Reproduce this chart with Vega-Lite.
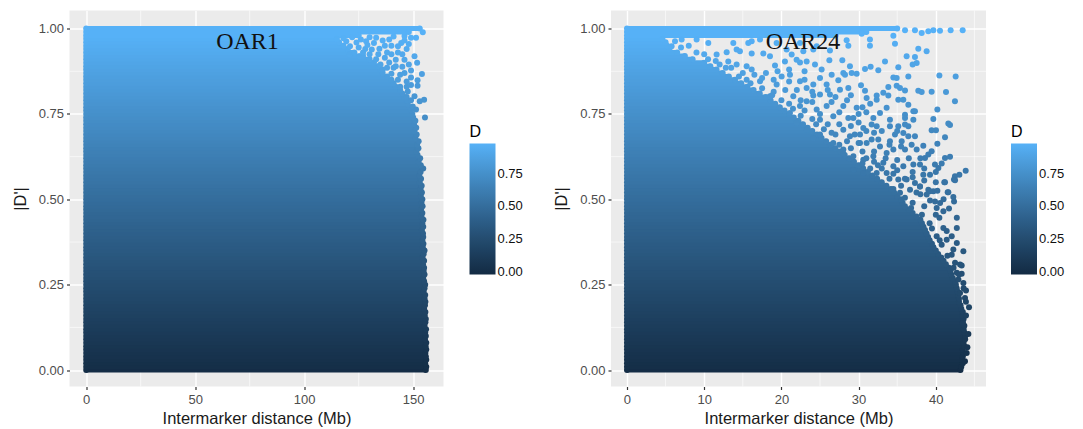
{"$schema":"https://vega.github.io/schema/vega-lite/v6.json","background":"white","padding":{"left":11.5,"top":9.5,"right":10,"bottom":0},"resolve":{"scale":{"color":"independent"},"legend":{"color":"independent"}},"config":{"view":{"fill":"#EBEBEB","stroke":null},"font":"Liberation Sans","concat":{"spacing":29.5},"axis":{"grid":true,"gridColor":"#FFFFFF","gridWidth":1.4,"domain":false,"tickColor":"#333333","tickSize":3,"tickWidth":1.2,"labelColor":"#4D4D4D","labelFontSize":13,"titleFontSize":16.5,"titleFontWeight":"normal","titleColor":"#1a1a1a","labelFont":"Liberation Sans","titleFont":"Liberation Sans"},"legend":{"titleFontSize":16,"titleFontWeight":"normal","labelFontSize":13,"labelColor":"#111111","gradientLength":131,"gradientThickness":26,"titlePadding":4,"gradientStrokeWidth":0,"padding":0,"labelFont":"Liberation Sans","titleFont":"Liberation Sans","labelOffset":6}},"datasets":{"l1":[{"y":0,"xmax":155.8},{"y":0.01,"xmax":156},{"y":0.02,"xmax":155.5},{"y":0.03,"xmax":156},{"y":0.04,"xmax":155.8},{"y":0.05,"xmax":155.6},{"y":0.06,"xmax":156},{"y":0.07,"xmax":155.7},{"y":0.08,"xmax":156},{"y":0.09,"xmax":155.4},{"y":0.1,"xmax":155.8},{"y":0.11,"xmax":155.5},{"y":0.12,"xmax":155.9},{"y":0.13,"xmax":155.2},{"y":0.14,"xmax":155.6},{"y":0.15,"xmax":155.8},{"y":0.16,"xmax":155.3},{"y":0.17,"xmax":155.6},{"y":0.18,"xmax":155},{"y":0.19,"xmax":155.4},{"y":0.2,"xmax":155.6},{"y":0.21,"xmax":155.2},{"y":0.22,"xmax":155.5},{"y":0.23,"xmax":154.8},{"y":0.24,"xmax":155.2},{"y":0.25,"xmax":155.5},{"y":0.26,"xmax":155},{"y":0.27,"xmax":154.6},{"y":0.28,"xmax":155.2},{"y":0.29,"xmax":154.8},{"y":0.3,"xmax":155},{"y":0.31,"xmax":154.5},{"y":0.32,"xmax":155},{"y":0.33,"xmax":154.3},{"y":0.34,"xmax":154.8},{"y":0.35,"xmax":155.2},{"y":0.36,"xmax":154.4},{"y":0.37,"xmax":154.7},{"y":0.38,"xmax":154.2},{"y":0.39,"xmax":154.6},{"y":0.4,"xmax":154.5},{"y":0.41,"xmax":154},{"y":0.42,"xmax":154.6},{"y":0.43,"xmax":154.2},{"y":0.44,"xmax":154.7},{"y":0.45,"xmax":153.8},{"y":0.46,"xmax":154.2},{"y":0.47,"xmax":153.6},{"y":0.48,"xmax":154.3},{"y":0.49,"xmax":153.8},{"y":0.5,"xmax":154.2},{"y":0.51,"xmax":153.5},{"y":0.52,"xmax":154},{"y":0.53,"xmax":153.4},{"y":0.54,"xmax":153.9},{"y":0.55,"xmax":153},{"y":0.56,"xmax":153.6},{"y":0.57,"xmax":152.8},{"y":0.58,"xmax":153.4},{"y":0.59,"xmax":154.6},{"y":0.6,"xmax":153.5},{"y":0.61,"xmax":152.5},{"y":0.62,"xmax":153.2},{"y":0.63,"xmax":152},{"y":0.64,"xmax":151.5},{"y":0.65,"xmax":152.4},{"y":0.66,"xmax":151.8},{"y":0.67,"xmax":152.5},{"y":0.68,"xmax":151},{"y":0.69,"xmax":151.6},{"y":0.7,"xmax":150.6},{"y":0.71,"xmax":151.4},{"y":0.72,"xmax":150.4},{"y":0.73,"xmax":151},{"y":0.74,"xmax":150},{"y":0.75,"xmax":149.6},{"y":0.76,"xmax":149},{"y":0.77,"xmax":148.5},{"y":0.78,"xmax":147.5},{"y":0.79,"xmax":147},{"y":0.8,"xmax":146},{"y":0.81,"xmax":145},{"y":0.82,"xmax":144},{"y":0.83,"xmax":142},{"y":0.84,"xmax":141},{"y":0.85,"xmax":140},{"y":0.86,"xmax":138},{"y":0.87,"xmax":136},{"y":0.88,"xmax":135},{"y":0.89,"xmax":134},{"y":0.9,"xmax":132},{"y":0.91,"xmax":130},{"y":0.92,"xmax":127},{"y":0.93,"xmax":123},{"y":0.94,"xmax":120},{"y":0.95,"xmax":118},{"y":0.96,"xmax":116},{"y":0.97,"xmax":115},{"y":0.98,"xmax":125},{"y":0.99,"xmax":148},{"y":1,"xmax":153}],"s1":[{"x":154.4,"y":0.989},{"x":150.6,"y":0.919},{"x":151.8,"y":0.9},{"x":154,"y":0.867},{"x":149,"y":0.877},{"x":152,"y":0.849},{"x":152,"y":0.833},{"x":149,"y":0.857},{"x":155,"y":0.792},{"x":153,"y":0.787},{"x":155.4,"y":0.74},{"x":149.8,"y":0.772},{"x":151.3,"y":0.763},{"x":150.6,"y":0.802},{"x":147.5,"y":0.816},{"x":145,"y":0.888},{"x":146,"y":0.909},{"x":142,"y":0.909},{"x":139,"y":0.901},{"x":136,"y":0.88},{"x":134.5,"y":0.941},{"x":131,"y":0.939},{"x":125.4,"y":0.919},{"x":120.8,"y":0.924},{"x":151.3,"y":0.973},{"x":149,"y":0.973},{"x":144.5,"y":0.958},{"x":139,"y":0.968},{"x":133,"y":0.973},{"x":128.4,"y":0.963},{"x":124,"y":0.959},{"x":119.3,"y":0.963},{"x":147,"y":0.94},{"x":128,"y":0.94},{"x":138,"y":0.93},{"x":141,"y":0.885},{"x":144,"y":0.865},{"x":147,"y":0.845},{"x":137,"y":0.915},{"x":133,"y":0.91},{"x":127,"y":0.93},{"x":143,"y":0.93},{"x":140,"y":0.95},{"x":136,"y":0.965},{"x":146,"y":0.965},{"x":118,"y":0.972},{"x":122,"y":0.975},{"x":126,"y":0.968},{"x":130,"y":0.975},{"x":141,"y":0.977},{"x":146,"y":0.978},{"x":121,"y":0.948},{"x":125,"y":0.945},{"x":129,"y":0.952},{"x":132,"y":0.958},{"x":137,"y":0.95},{"x":143,"y":0.948},{"x":148,"y":0.955},{"x":130,"y":0.925},{"x":134,"y":0.925},{"x":140,"y":0.925},{"x":145,"y":0.925},{"x":135,"y":0.895},{"x":138,"y":0.885},{"x":142,"y":0.89},{"x":148,"y":0.895},{"x":140,"y":0.868},{"x":143,"y":0.85},{"x":146,"y":0.87},{"x":144,"y":0.83},{"x":147,"y":0.83},{"x":149,"y":0.835},{"x":147,"y":0.8},{"x":149,"y":0.79}],"l2":[{"y":0,"xmax":43.2},{"y":0.01,"xmax":43.3},{"y":0.02,"xmax":43.5},{"y":0.03,"xmax":43.4},{"y":0.04,"xmax":43.5},{"y":0.05,"xmax":43.6},{"y":0.06,"xmax":43.5},{"y":0.07,"xmax":43.7},{"y":0.08,"xmax":43.6},{"y":0.09,"xmax":43.8},{"y":0.1,"xmax":43.8},{"y":0.11,"xmax":43.7},{"y":0.12,"xmax":43.6},{"y":0.13,"xmax":43.7},{"y":0.14,"xmax":43.5},{"y":0.15,"xmax":43.6},{"y":0.16,"xmax":43.4},{"y":0.17,"xmax":43.5},{"y":0.18,"xmax":43.3},{"y":0.19,"xmax":43.2},{"y":0.2,"xmax":43},{"y":0.21,"xmax":43},{"y":0.22,"xmax":42.9},{"y":0.23,"xmax":42.8},{"y":0.24,"xmax":42.7},{"y":0.25,"xmax":42.6},{"y":0.26,"xmax":42.5},{"y":0.27,"xmax":42.2},{"y":0.28,"xmax":42},{"y":0.29,"xmax":41.9},{"y":0.3,"xmax":41.7},{"y":0.31,"xmax":41.3},{"y":0.32,"xmax":41},{"y":0.33,"xmax":40.7},{"y":0.34,"xmax":40.3},{"y":0.35,"xmax":40},{"y":0.36,"xmax":39.7},{"y":0.37,"xmax":39.5},{"y":0.38,"xmax":39.2},{"y":0.39,"xmax":39},{"y":0.4,"xmax":38.8},{"y":0.41,"xmax":38.6},{"y":0.42,"xmax":38.4},{"y":0.43,"xmax":38.2},{"y":0.44,"xmax":38},{"y":0.45,"xmax":37.5},{"y":0.46,"xmax":37},{"y":0.47,"xmax":36.5},{"y":0.48,"xmax":36},{"y":0.49,"xmax":35.7},{"y":0.5,"xmax":35.5},{"y":0.51,"xmax":35},{"y":0.52,"xmax":34.6},{"y":0.53,"xmax":34.2},{"y":0.54,"xmax":33.6},{"y":0.55,"xmax":33},{"y":0.56,"xmax":32.4},{"y":0.57,"xmax":31.8},{"y":0.58,"xmax":31.2},{"y":0.59,"xmax":30.6},{"y":0.6,"xmax":30},{"y":0.61,"xmax":29.4},{"y":0.62,"xmax":28.8},{"y":0.63,"xmax":28.2},{"y":0.64,"xmax":27.6},{"y":0.65,"xmax":27},{"y":0.66,"xmax":26.4},{"y":0.67,"xmax":25.8},{"y":0.68,"xmax":25.2},{"y":0.69,"xmax":24.6},{"y":0.7,"xmax":24},{"y":0.71,"xmax":23.4},{"y":0.72,"xmax":22.8},{"y":0.73,"xmax":22.2},{"y":0.74,"xmax":21.6},{"y":0.75,"xmax":21},{"y":0.76,"xmax":20.4},{"y":0.77,"xmax":19.8},{"y":0.78,"xmax":19.2},{"y":0.79,"xmax":18.6},{"y":0.8,"xmax":18},{"y":0.81,"xmax":17.2},{"y":0.82,"xmax":16.4},{"y":0.83,"xmax":15.6},{"y":0.84,"xmax":14.8},{"y":0.85,"xmax":14},{"y":0.86,"xmax":13.2},{"y":0.87,"xmax":12.4},{"y":0.88,"xmax":11.6},{"y":0.89,"xmax":10.8},{"y":0.9,"xmax":10},{"y":0.91,"xmax":8.5},{"y":0.92,"xmax":7.5},{"y":0.93,"xmax":6.5},{"y":0.94,"xmax":5.5},{"y":0.95,"xmax":5.2},{"y":0.96,"xmax":5},{"y":0.97,"xmax":4.6},{"y":0.98,"xmax":27},{"y":0.99,"xmax":31},{"y":1,"xmax":35}],"s2":[{"x":43.48,"y":0.995},{"x":41.92,"y":0.995},{"x":40.54,"y":0.994},{"x":39.68,"y":0.995},{"x":39.03,"y":0.992},{"x":38.17,"y":0.987},{"x":37.3,"y":0.995},{"x":36.01,"y":0.995},{"x":34.5,"y":0.979},{"x":34.71,"y":0.956},{"x":31.47,"y":0.968},{"x":31.47,"y":0.95},{"x":30.4,"y":0.985},{"x":28.45,"y":0.966},{"x":28.67,"y":0.95},{"x":37.73,"y":0.941},{"x":38.81,"y":0.934},{"x":36.22,"y":0.919},{"x":37.3,"y":0.917},{"x":37.52,"y":0.899},{"x":37,"y":0.895},{"x":35.14,"y":0.887},{"x":33.42,"y":0.904},{"x":32.55,"y":0.878},{"x":31.56,"y":0.888},{"x":30.83,"y":0.882},{"x":40.46,"y":0.863},{"x":42.57,"y":0.86},{"x":36.44,"y":0.86},{"x":34.5,"y":0.857},{"x":34.93,"y":0.855},{"x":34.93,"y":0.833},{"x":35.36,"y":0.826},{"x":37.73,"y":0.818},{"x":38.17,"y":0.814},{"x":39.46,"y":0.815},{"x":41.32,"y":0.814},{"x":42.48,"y":0.787},{"x":40.2,"y":0.763},{"x":35.14,"y":0.792},{"x":35.79,"y":0.792},{"x":36.44,"y":0.777},{"x":36.01,"y":0.819},{"x":33.85,"y":0.829},{"x":33.85,"y":0.804},{"x":33.2,"y":0.812},{"x":32.34,"y":0.804},{"x":32.34,"y":0.792},{"x":31.04,"y":0.797},{"x":30.83,"y":0.818},{"x":30.31,"y":0.834},{"x":29.75,"y":0.868},{"x":28.88,"y":0.89},{"x":29.1,"y":0.87},{"x":27.89,"y":0.907},{"x":26.21,"y":0.907},{"x":28.02,"y":0.87},{"x":28.24,"y":0.865},{"x":27.37,"y":0.849},{"x":26.51,"y":0.865},{"x":25.21,"y":0.88},{"x":24.35,"y":0.895},{"x":23.27,"y":0.904},{"x":22.41,"y":0.901},{"x":20.46,"y":0.904},{"x":19.17,"y":0.892},{"x":18.52,"y":0.919},{"x":17.66,"y":0.927},{"x":16.15,"y":0.927},{"x":16.15,"y":0.963},{"x":15.71,"y":0.958},{"x":17.23,"y":0.968},{"x":13.77,"y":0.958},{"x":14.2,"y":0.939},{"x":14.63,"y":0.934},{"x":12.91,"y":0.931},{"x":11.61,"y":0.924},{"x":10.53,"y":0.958},{"x":9.02,"y":0.968},{"x":7.08,"y":0.968},{"x":6.22,"y":0.963},{"x":5.78,"y":0.948},{"x":21.33,"y":0.924},{"x":20.68,"y":0.939},{"x":22.84,"y":0.934},{"x":24.13,"y":0.939},{"x":26.29,"y":0.936},{"x":24.57,"y":0.948},{"x":22.41,"y":0.958},{"x":19.38,"y":0.958},{"x":21.97,"y":0.909},{"x":37.09,"y":0.758},{"x":37.3,"y":0.758},{"x":36.01,"y":0.748},{"x":36.01,"y":0.738},{"x":37.09,"y":0.733},{"x":39.68,"y":0.735},{"x":41.62,"y":0.722},{"x":41.84,"y":0.718},{"x":39.46,"y":0.702},{"x":40.02,"y":0.702},{"x":41.19,"y":0.682},{"x":40.2,"y":0.663},{"x":38.38,"y":0.657},{"x":39.46,"y":0.641},{"x":39.03,"y":0.631},{"x":41.19,"y":0.621},{"x":41.84,"y":0.625},{"x":43.87,"y":0.584},{"x":43.05,"y":0.572},{"x":42.48,"y":0.568},{"x":42.35,"y":0.558},{"x":41.1,"y":0.55},{"x":41.62,"y":0.521},{"x":42.27,"y":0.507},{"x":40.76,"y":0.605},{"x":39.89,"y":0.602},{"x":40.33,"y":0.592},{"x":38.6,"y":0.621},{"x":39.25,"y":0.572},{"x":36.44,"y":0.685},{"x":37.3,"y":0.685},{"x":35.79,"y":0.694},{"x":36.44,"y":0.714},{"x":35.14,"y":0.714},{"x":36.01,"y":0.719},{"x":34.06,"y":0.733},{"x":34.06,"y":0.714},{"x":32.34,"y":0.714},{"x":31.91,"y":0.738},{"x":33.63,"y":0.768},{"x":32.77,"y":0.753},{"x":31.69,"y":0.719},{"x":30.61,"y":0.709},{"x":30.18,"y":0.69},{"x":31.69,"y":0.675},{"x":32.55,"y":0.675},{"x":34.71,"y":0.69},{"x":34.06,"y":0.67},{"x":35.58,"y":0.67},{"x":36.87,"y":0.66},{"x":37.52,"y":0.646},{"x":36.01,"y":0.646},{"x":34.5,"y":0.646},{"x":33.63,"y":0.636},{"x":32.77,"y":0.655},{"x":31.04,"y":0.665},{"x":30.18,"y":0.665},{"x":28.67,"y":0.738},{"x":29.32,"y":0.738},{"x":29.75,"y":0.768},{"x":28.02,"y":0.773},{"x":26.29,"y":0.807},{"x":25,"y":0.807},{"x":24.13,"y":0.804},{"x":27.59,"y":0.821},{"x":28.67,"y":0.826},{"x":25.86,"y":0.836},{"x":24.13,"y":0.836},{"x":23.27,"y":0.826},{"x":22.41,"y":0.846},{"x":21.11,"y":0.865},{"x":20.03,"y":0.86},{"x":19.38,"y":0.836},{"x":18.52,"y":0.802},{"x":17.23,"y":0.846},{"x":16.15,"y":0.88},{"x":15.5,"y":0.89},{"x":14.2,"y":0.895},{"x":13.12,"y":0.904},{"x":21.54,"y":0.802},{"x":22.41,"y":0.773},{"x":21.11,"y":0.753},{"x":23.27,"y":0.787},{"x":24.57,"y":0.763},{"x":25.86,"y":0.773},{"x":26.72,"y":0.743},{"x":25,"y":0.733},{"x":23.27,"y":0.704},{"x":21.97,"y":0.724},{"x":24.13,"y":0.68},{"x":26.72,"y":0.665},{"x":28.02,"y":0.704},{"x":28.88,"y":0.685},{"x":28.02,"y":0.646},{"x":29.32,"y":0.626},{"x":30.61,"y":0.616},{"x":31.91,"y":0.626},{"x":33.2,"y":0.607},{"x":34.5,"y":0.597},{"x":35.79,"y":0.597},{"x":37.09,"y":0.602},{"x":37.95,"y":0.602},{"x":38.38,"y":0.572},{"x":37.3,"y":0.548},{"x":36.22,"y":0.558},{"x":35.14,"y":0.558},{"x":33.63,"y":0.577},{"x":32.34,"y":0.577},{"x":30.61,"y":0.577},{"x":29.32,"y":0.587},{"x":39.03,"y":0.528},{"x":37.95,"y":0.538},{"x":36.66,"y":0.528},{"x":35.36,"y":0.519},{"x":39.68,"y":0.524},{"x":41.19,"y":0.55},{"x":42.49,"y":0.556},{"x":41.54,"y":0.521},{"x":42.36,"y":0.494},{"x":41.71,"y":0.473},{"x":42.72,"y":0.446},{"x":42.72,"y":0.416},{"x":43.57,"y":0.348},{"x":43.35,"y":0.306},{"x":43.35,"y":0.282},{"x":43.91,"y":0.233},{"x":44.3,"y":0.184},{"x":43.91,"y":0.16},{"x":44.22,"y":0.106},{"x":44.09,"y":0.067},{"x":44,"y":0.05},{"x":43.78,"y":0.026},{"x":40.11,"y":0.392},{"x":40.98,"y":0.416},{"x":41.41,"y":0.407},{"x":42.06,"y":0.392},{"x":42.72,"y":0.372},{"x":41.41,"y":0.382},{"x":40.76,"y":0.367},{"x":42.27,"y":0.353},{"x":42.49,"y":0.314},{"x":43.14,"y":0.309},{"x":42.92,"y":0.265},{"x":43.57,"y":0.255},{"x":43.78,"y":0.211},{"x":40.55,"y":0.489},{"x":39.9,"y":0.494},{"x":39.25,"y":0.497},{"x":40.98,"y":0.465},{"x":40.11,"y":0.475},{"x":38.82,"y":0.514},{"x":39.25,"y":0.524},{"x":37.95,"y":0.538},{"x":43.14,"y":0.226},{"x":42.72,"y":0.285},{"x":43.48,"y":0.138},{"x":42.06,"y":0.338},{"x":40.46,"y":0.446},{"x":10.5,"y":0.91},{"x":12,"y":0.895},{"x":13.5,"y":0.885},{"x":15,"y":0.87},{"x":16.5,"y":0.865},{"x":18,"y":0.87},{"x":19.5,"y":0.875},{"x":21,"y":0.88},{"x":23,"y":0.875},{"x":15.5,"y":0.85},{"x":17.5,"y":0.855},{"x":19,"y":0.85},{"x":21,"y":0.845},{"x":23,"y":0.85},{"x":25,"y":0.855},{"x":19,"y":0.815},{"x":20.5,"y":0.82},{"x":22,"y":0.82},{"x":24,"y":0.815},{"x":26,"y":0.82},{"x":27,"y":0.8},{"x":29,"y":0.805},{"x":21,"y":0.78},{"x":22.5,"y":0.79},{"x":24,"y":0.785},{"x":26.5,"y":0.785},{"x":28.5,"y":0.79},{"x":30.5,"y":0.77},{"x":31.5,"y":0.78},{"x":23,"y":0.76},{"x":25,"y":0.75},{"x":27.5,"y":0.755},{"x":30,"y":0.75},{"x":31,"y":0.755},{"x":24.5,"y":0.72},{"x":26,"y":0.72},{"x":27.5,"y":0.72},{"x":29,"y":0.715},{"x":30,"y":0.725},{"x":31,"y":0.7},{"x":33,"y":0.7},{"x":35,"y":0.7},{"x":25,"y":0.69},{"x":27,"y":0.69},{"x":29.5,"y":0.69},{"x":32,"y":0.695},{"x":27.5,"y":0.66},{"x":29,"y":0.65},{"x":30.5,"y":0.64},{"x":32,"y":0.64},{"x":34,"y":0.66},{"x":35.5,"y":0.655},{"x":28,"y":0.635},{"x":30.5,"y":0.605},{"x":32,"y":0.61},{"x":33.5,"y":0.62},{"x":35,"y":0.615},{"x":36.5,"y":0.62},{"x":38,"y":0.62},{"x":31.5,"y":0.59},{"x":33,"y":0.59},{"x":35,"y":0.585},{"x":37,"y":0.58},{"x":38.5,"y":0.59},{"x":40,"y":0.58},{"x":34,"y":0.56},{"x":35.5,"y":0.54},{"x":37,"y":0.565},{"x":38.5,"y":0.555},{"x":40,"y":0.55},{"x":34.5,"y":0.53},{"x":36,"y":0.505},{"x":38,"y":0.515},{"x":40.2,"y":0.525},{"x":41,"y":0.5},{"x":37,"y":0.49},{"x":38.5,"y":0.48},{"x":40,"y":0.455},{"x":7,"y":0.945},{"x":8,"y":0.95},{"x":9,"y":0.93},{"x":10,"y":0.925},{"x":11.5,"y":0.905},{"x":12.8,"y":0.885},{"x":14.5,"y":0.86},{"x":16,"y":0.84},{"x":17.5,"y":0.825},{"x":18.8,"y":0.805},{"x":20,"y":0.79},{"x":21.5,"y":0.765},{"x":22.5,"y":0.745},{"x":24,"y":0.735},{"x":25.5,"y":0.705},{"x":26.5,"y":0.695},{"x":28.5,"y":0.67},{"x":30,"y":0.665},{"x":31,"y":0.62},{"x":32.5,"y":0.6},{"x":34.5,"y":0.575},{"x":36,"y":0.56},{"x":37.5,"y":0.52},{"x":36.8,"y":0.475},{"x":38.2,"y":0.455},{"x":39.2,"y":0.43},{"x":39.5,"y":0.415},{"x":40.5,"y":0.38},{"x":41.5,"y":0.335},{"x":42.3,"y":0.3},{"x":43,"y":0.28},{"x":43.6,"y":0.24},{"x":43.9,"y":0.2}]},"hconcat":[{"width":374,"height":376,"layer":[{"data":{"values":[{"v":25},{"v":75},{"v":125}]},"mark":{"type":"rule","color":"#FFFFFF","strokeWidth":0.6},"encoding":{"x":{"field":"v","type":"quantitative","scale":{"domain":[-7.66,163.9],"nice":false,"zero":false},"axis":{"title":"Intermarker distance (Mb)","values":[0,50,100,150],"labelPadding":4,"titlePadding":4}}}},{"data":{"values":[{"w":0.125},{"w":0.375},{"w":0.625},{"w":0.875}]},"mark":{"type":"rule","color":"#FFFFFF","strokeWidth":0.6},"encoding":{"y":{"field":"w","type":"quantitative","scale":{"domain":[-0.048,1.053],"nice":false,"zero":false,"padding":0},"axis":{"title":"|D'|","values":[0,0.25,0.5,0.75,1],"format":".2f","labelPadding":3,"titlePadding":10}}}},{"data":{"name":"l1"},"mark":{"type":"bar","orient":"horizontal","height":5},"encoding":{"x":{"field":"xmax","type":"quantitative","stack":null},"x2":{"datum":0},"y":{"field":"y","type":"quantitative","scale":{"padding":0}},"color":{"field":"y","type":"quantitative","title":"D","scale":{"domain":[-0.02,0.98],"range":["#132B43","#56B1F7"],"interpolate":"lab","clamp":true,"nice":false,"zero":false},"legend":{"type":"gradient","orient":"none","legendX":400,"legendY":113,"values":[0,0.25,0.5,0.75],"format":".2f"}}}},{"data":{"name":"l1"},"mark":{"type":"point","filled":true,"opacity":1,"size":36},"encoding":{"x":{"datum":0,"type":"quantitative"},"y":{"field":"y","type":"quantitative"},"color":{"field":"y","type":"quantitative","title":"D","legend":{"type":"gradient","orient":"none","legendX":400,"legendY":113,"values":[0,0.25,0.5,0.75],"format":".2f"}}}},{"data":{"name":"l1"},"mark":{"type":"point","filled":true,"opacity":1,"size":36},"encoding":{"x":{"field":"xmax","type":"quantitative"},"y":{"field":"y","type":"quantitative"},"color":{"field":"y","type":"quantitative","title":"D","legend":{"type":"gradient","orient":"none","legendX":400,"legendY":113,"values":[0,0.25,0.5,0.75],"format":".2f"}}}},{"data":{"name":"s1"},"mark":{"type":"point","filled":true,"opacity":1,"size":36},"encoding":{"x":{"field":"x","type":"quantitative"},"y":{"field":"y","type":"quantitative"},"color":{"field":"y","type":"quantitative","title":"D","legend":{"type":"gradient","orient":"none","legendX":400,"legendY":113,"values":[0,0.25,0.5,0.75],"format":".2f"}}}},{"data":{"values":[{"x":74,"y":0.962,"label":"OAR1"}]},"mark":{"type":"text","font":"Liberation Serif","fontSize":24,"color":"#111111"},"encoding":{"x":{"field":"x","type":"quantitative"},"y":{"field":"y","type":"quantitative"},"text":{"field":"label"}}}]},{"width":375,"height":376,"layer":[{"data":{"values":[{"v":5},{"v":15},{"v":25},{"v":35},{"v":45}]},"mark":{"type":"rule","color":"#FFFFFF","strokeWidth":0.6},"encoding":{"x":{"field":"v","type":"quantitative","scale":{"domain":[-2.07,46.5],"nice":false,"zero":false},"axis":{"title":"Intermarker distance (Mb)","values":[0,10,20,30,40],"labelPadding":4,"titlePadding":4}}}},{"data":{"values":[{"w":0.125},{"w":0.375},{"w":0.625},{"w":0.875}]},"mark":{"type":"rule","color":"#FFFFFF","strokeWidth":0.6},"encoding":{"y":{"field":"w","type":"quantitative","scale":{"domain":[-0.048,1.053],"nice":false,"zero":false,"padding":0},"axis":{"title":"|D'|","values":[0,0.25,0.5,0.75,1],"format":".2f","labelPadding":3,"titlePadding":10}}}},{"data":{"name":"l2"},"mark":{"type":"bar","orient":"horizontal","height":5},"encoding":{"x":{"field":"xmax","type":"quantitative","stack":null},"x2":{"datum":0},"y":{"field":"y","type":"quantitative","scale":{"padding":0}},"color":{"field":"y","type":"quantitative","title":"D","scale":{"domain":[-0.02,0.98],"range":["#132B43","#56B1F7"],"interpolate":"lab","clamp":true,"nice":false,"zero":false},"legend":{"type":"gradient","orient":"none","legendX":400,"legendY":113,"values":[0,0.25,0.5,0.75],"format":".2f"}}}},{"data":{"name":"l2"},"mark":{"type":"point","filled":true,"opacity":1,"size":36},"encoding":{"x":{"datum":0,"type":"quantitative"},"y":{"field":"y","type":"quantitative"},"color":{"field":"y","type":"quantitative","title":"D","legend":{"type":"gradient","orient":"none","legendX":400,"legendY":113,"values":[0,0.25,0.5,0.75],"format":".2f"}}}},{"data":{"name":"l2"},"mark":{"type":"point","filled":true,"opacity":1,"size":36},"encoding":{"x":{"field":"xmax","type":"quantitative"},"y":{"field":"y","type":"quantitative"},"color":{"field":"y","type":"quantitative","title":"D","legend":{"type":"gradient","orient":"none","legendX":400,"legendY":113,"values":[0,0.25,0.5,0.75],"format":".2f"}}}},{"data":{"name":"s2"},"mark":{"type":"point","filled":true,"opacity":1,"size":36},"encoding":{"x":{"field":"x","type":"quantitative"},"y":{"field":"y","type":"quantitative"},"color":{"field":"y","type":"quantitative","title":"D","legend":{"type":"gradient","orient":"none","legendX":400,"legendY":113,"values":[0,0.25,0.5,0.75],"format":".2f"}}}},{"data":{"values":[{"x":22.8,"y":0.962,"label":"OAR24"}]},"mark":{"type":"text","font":"Liberation Serif","fontSize":24,"color":"#111111"},"encoding":{"x":{"field":"x","type":"quantitative"},"y":{"field":"y","type":"quantitative"},"text":{"field":"label"}}}]}]}
